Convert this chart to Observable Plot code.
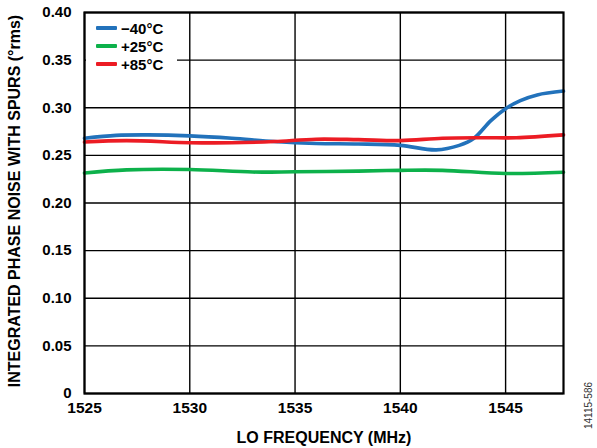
<!DOCTYPE html>
<html>
<head>
<meta charset="utf-8">
<script src="https://cdn.jsdelivr.net/npm/d3@7"></script>
<script src="https://cdn.jsdelivr.net/npm/@observablehq/plot@0.6"></script>
<style>
  html, body { margin: 0; padding: 0; background: white; }
  #wrap { position: relative; width: 597px; height: 448px; }
  #legend { position: absolute; left: 86px; top: 14px; width: 91px; height: 60px; background: white;
            font-family: "Liberation Sans", Arial, sans-serif; font-weight: bold; font-size: 15px; color: black; }
  .row { position: absolute; left: 0; height: 18px; display: flex; align-items: center; }
  .sw { width: 21px; height: 3.5px; margin-left: 10px; margin-right: 4px; border-radius: 1px; }
</style>
</head>
<body>
<div id="wrap"></div>
<script>
const seriesNames = ["−40°C", "+25°C", "+85°C"];
const seriesColors = ["#2272bb", "#0db14b", "#ec1c24"];

const freqM40 = [1525, 1526.5, 1528, 1530, 1532, 1534, 1536, 1538, 1540, 1541.7, 1542.8, 1543.5, 1544.3, 1545, 1545.7, 1546.5, 1547.75];
const valM40  = [0.268, 0.271, 0.2715, 0.2705, 0.268, 0.2645, 0.2625, 0.262, 0.2605, 0.2558, 0.2605, 0.268, 0.2865, 0.299, 0.3075, 0.3135, 0.3175];

const freqP25 = [1525, 1527, 1530, 1533, 1535, 1538, 1540, 1542, 1545, 1547.75];
const valP25  = [0.2315, 0.2348, 0.2352, 0.2325, 0.2328, 0.2335, 0.2343, 0.2343, 0.231, 0.2323];

const freqP85 = [1525, 1527, 1530, 1532, 1534, 1536, 1538, 1540, 1542, 1544, 1545.5, 1547.75];
const valP85  = [0.264, 0.2655, 0.2633, 0.2632, 0.2645, 0.267, 0.2665, 0.2655, 0.268, 0.2685, 0.2685, 0.2715];

const xTicks = [1525, 1530, 1535, 1540, 1545];
const yTicks = [0, 0.05, 0.10, 0.15, 0.20, 0.25, 0.30, 0.35, 0.40];
const xDomain = [1525, 1547.75];
const yDomain = [0, 0.40];

const xLabel = "LO FREQUENCY (MHz)";
const yLabel = "INTEGRATED PHASE NOISE WITH SPURS (°rms)";
const figCode = "14115-586";

const rows = [];
[[freqM40, valM40], [freqP25, valP25], [freqP85, valP85]].forEach(([fx, fy], i) => {
  fx.forEach((f, j) => rows.push({series: seriesNames[i], freq: f, value: fy[j]}));
});

const font = "'Liberation Sans', Arial, sans-serif";

const chart = Plot.plot({
  width: 597, height: 448,
  marginLeft: 84, marginRight: 34, marginTop: 12, marginBottom: 55,
  style: {fontFamily: font, fontSize: "15px", fontWeight: "bold", color: "black", background: "white"},
  x: {domain: xDomain},
  y: {domain: yDomain},
  color: {domain: seriesNames, range: seriesColors},
  marks: [
    Plot.gridX(xTicks, {stroke: "black", strokeOpacity: 1, strokeWidth: 1.4}),
    Plot.gridY(yTicks, {stroke: "black", strokeOpacity: 1, strokeWidth: 1.4}),
    Plot.axisX(xTicks, {tickSize: 0, tickPadding: 8, label: null, tickFormat: d => String(d), fontSize: 15.5}),
    Plot.axisY(yTicks, {tickSize: 0, tickPadding: 13, label: null, tickFormat: d => d === 0 ? "0" : d.toFixed(2), fontSize: 15}),
    Plot.line(rows, {x: "freq", y: "value", z: "series", stroke: "series", curve: "catmull-rom", strokeWidth: 3.6}),
    Plot.frame({stroke: "black", strokeWidth: 2.2}),
    Plot.text([xLabel], {text: d => d, frameAnchor: "bottom", dy: 44, lineAnchor: "middle", textAnchor: "middle", fontSize: 16, fontWeight: "bold"}),
    Plot.text([yLabel], {text: d => d, frameAnchor: "left", dx: -70, dy: -2, rotate: -90, lineAnchor: "middle", textAnchor: "middle", fontSize: 16, fontWeight: "bold"}),
    Plot.text([figCode], {text: d => d, frameAnchor: "bottom-right", dx: 25, dy: 12, rotate: -90, lineAnchor: "middle", textAnchor: "middle", fontSize: 10, fontWeight: "normal", fill: "#333"})
  ]
});

const wrap = document.getElementById("wrap");
wrap.appendChild(chart);

const legend = document.createElement("div");
legend.id = "legend";
seriesNames.forEach((name, i) => {
  const row = document.createElement("div");
  row.className = "row";
  row.style.top = (5 + i * 18) + "px";
  const sw = document.createElement("div");
  sw.className = "sw";
  sw.style.background = seriesColors[i];
  const t = document.createElement("span");
  t.textContent = name;
  row.appendChild(sw);
  row.appendChild(t);
  legend.appendChild(row);
});
wrap.appendChild(legend);
</script>
</body>
</html>
